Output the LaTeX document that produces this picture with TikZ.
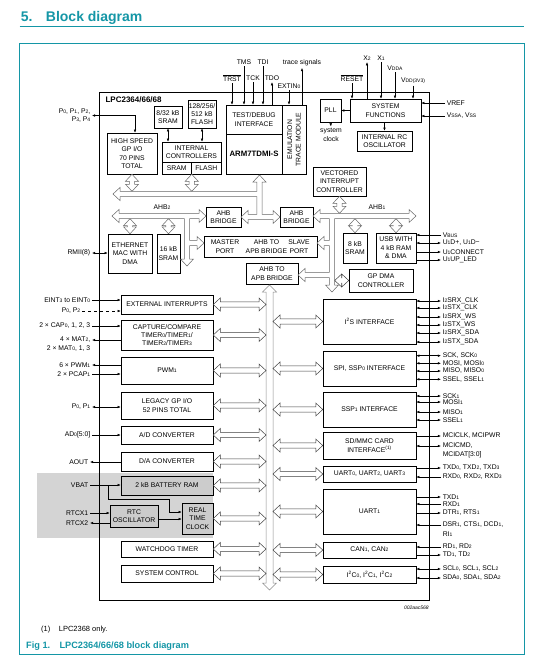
\documentclass[tikz,border=0pt]{standalone}
\usepackage{fontspec}
\setmainfont{Liberation Sans}
\usetikzlibrary{arrows.meta,calc}

\definecolor{nxpteal}{RGB}{20,150,166}
\newcommand\ix[1]{{\fontsize{5}{5}\selectfont #1}}
\newcommand\ovl[1]{$\overline{\mbox{#1}}$}

\tikzset{
  blk/.style 2 args={draw, fill=white, align=center, inner sep=0pt,
    minimum width=#1pt, minimum height=#2pt},
  bat/.style={fill=black!20},
  lbl/.style={inner sep=1.5pt, align=center},
  busline/.style={draw=black!60, fill=white, line width=0.5pt},
  hbus/.style={busline, draw=black!75, to path={let \p1=(\tikztostart), \p2=(\tikztotarget) in
    (\x1,\y1) -- (\x1+7pt,\y1+6.5pt) -- (\x1+7pt,\y1+2.7pt) -- (\x2-7pt,\y1+2.7pt)
    -- (\x2-7pt,\y1+6.5pt) -- (\x2,\y1) -- (\x2-7pt,\y1-6.5pt) -- (\x2-7pt,\y1-2.7pt)
    -- (\x1+7pt,\y1-2.7pt) -- (\x1+7pt,\y1-6.5pt) -- cycle}},
  vbus/.style={busline, to path={let \p1=(\tikztostart), \p2=(\tikztotarget) in
    (\x1,\y1) -- (\x1+6.5pt,\y1-7pt) -- (\x1+2.7pt,\y1-7pt) -- (\x1+2.7pt,\y2+7pt)
    -- (\x1+6.5pt,\y2+7pt) -- (\x1,\y2) -- (\x1-6.5pt,\y2+7pt) -- (\x1-2.7pt,\y2+7pt)
    -- (\x1-2.7pt,\y1-7pt) -- (\x1-6.5pt,\y1-7pt) -- cycle}}
}

\begin{document}
\begin{tikzpicture}[x=1pt, y=-1pt, line width=0.5pt,
    font=\fontsize{6.8}{8.4}\selectfont, >={Latex[length=3.2pt,width=2.6pt]}]
\useasboundingbox (0,0) rectangle (540,665);

% Titel und Rahmen:
\node[anchor=base west, inner sep=0, text=nxpteal, font=\fontsize{14}{16}\selectfont\bfseries] (titel) at (20.5,21) {5.\hspace{13.5pt}Block diagram};
\draw[nxpteal, line width=1.6pt] (19.6,26.5) -- (524,26.5); % Linie unter Titel
\draw[nxpteal, line width=0.9pt] (19.6,43.7) rectangle (524,654); % Rahmen

% Batterie-Bereich:
\fill[black!17] (37,473) rectangle (213,538);

% Chip:
\node[draw, inner sep=0, minimum width=330pt, minimum height=508pt, line width=0.6pt] (chip) at (264,346) {};
\node[anchor=west, font=\fontsize{8}{9}\selectfont\bfseries] (typ) at (102,100) {LPC2364/66/68};

% obere Bloecke:
\node[blk={50}{41}] (hsgpio) at (132,153.5) {HIGH SPEED\\GP I/O\\70 PINS\\TOTAL};
\node[blk={28}{22}] (sram8) at (168,117) {8/32 kB\\SRAM};
\node[blk={28}{28}] (flash) at (202,114) {128/256/\\512 kB\\FLASH};
\node[blk={59}{20}] (intctl) at (191.5,152) {INTERNAL\\CONTROLLERS};
\node[blk={29.5}{12}] (icsram) at (176.75,168) {SRAM};
\node[blk={29.5}{12}] (icflash) at (206.25,168) {FLASH};
\node[blk={56}{29}] (dbg) at (254,119.5) {TEST/DEBUG\\INTERFACE};
\node[blk={56}{40}, font=\fontsize{7.8}{9}\selectfont\bfseries] (cpu) at (254,154) {ARM7TDMI-S};
\node[blk={69}{24}, rotate=90] (etm) at (294,139.5) {EMULATION\\TRACE MODULE};
\node[blk={21}{23}] (pll) at (330.5,110.5) {PLL};
\node[blk={71}{23}] (sysfn) at (385.5,110.5) {SYSTEM\\FUNCTIONS};
\node[blk={55}{20}] (rcosc) at (384.5,141) {INTERNAL RC\\OSCILLATOR};
\node[blk={53}{29}] (vic) at (339.5,181.5) {VECTORED\\INTERRUPT\\CONTROLLER};

% AHB-Bereich:
\node[blk={35}{20}] (brl) at (223.5,217) {AHB\\BRIDGE};
\node[blk={33}{20}] (brr) at (296.5,217) {AHB\\BRIDGE};
\node[blk={44}{39}] (eth) at (130,253.5) {ETHERNET\\MAC WITH\\DMA};
\node[blk={23}{39}] (sram16) at (168.5,253.5) {16 kB\\SRAM};
\node[blk={113}{21}] (apbport) at (260.5,246.5) {};
\node[lbl] (mport) at (225,246.5) {MASTER\\PORT};
\node[lbl] (abtxt) at (266.5,246.5) {AHB TO\\APB BRIDGE};
\node[lbl] (sport) at (299,246.5) {SLAVE\\PORT};
\node[blk={52}{21}] (apb2) at (272,273.5) {AHB TO\\APB BRIDGE};
\node[blk={24}{30}] (sram8k) at (355,248) {8 kB\\SRAM};
\node[blk={40}{30}] (usb) at (396,248) {USB WITH\\4 kB RAM\\\& DMA};
\node[blk={64}{23}] (gpdma) at (381,280.5) {GP DMA\\CONTROLLER};
\node[lbl] (ahbzwei) at (162,207) {AHB\ix{2}};
\node[lbl] (ahbeins) at (377,207) {AHB\ix{1}};

% linke Peripherie:
\node[blk={92}{19}] (eint) at (167,304.5) {EXTERNAL INTERRUPTS};
\node[blk={92}{30}] (timer) at (167,335) {CAPTURE/COMPARE\\TIMER\ix{0}/TIMER\ix{1}/\\TIMER\ix{2}/TIMER\ix{3}};
\node[blk={92}{27}] (pwm) at (167,370.5) {PWM\ix{1}};
\node[blk={92}{27}] (gpio) at (167,405.5) {LEGACY GP I/O\\52 PINS TOTAL};
\node[blk={92}{18}] (adc) at (167,435) {A/D CONVERTER};
\node[blk={92}{19}] (dac) at (167,461.5) {D/A CONVERTER};
\node[blk={92}{19}, bat] (bram) at (167,485.5) {2 kB BATTERY RAM};
\node[blk={48}{22}, bat] (rtcosc) at (134,516) {RTC\\OSCILLATOR};
\node[blk={31}{31}, bat] (rtc) at (197.5,518.5) {REAL\\TIME\\CLOCK};
\node[blk={92}{16}] (wdt) at (167,549) {WATCHDOG TIMER};
\node[blk={92}{17}] (sysctl) at (167,573.5) {SYSTEM CONTROL};

% rechte Peripherie:
\node[blk={93}{45}] (i2s) at (369.5,321.5) {I\textsuperscript{2}S INTERFACE};
\node[blk={93}{35}] (spi) at (369.5,368.5) {SPI, SSP\ix{0} INTERFACE};
\node[blk={93}{35}] (ssp1) at (369.5,409.5) {SSP\ix{1} INTERFACE};
\node[blk={93}{27}] (sdmmc) at (369.5,445.5) {SD/MMC CARD\\INTERFACE\textsuperscript{(1)}};
\node[blk={93}{16}] (uart0) at (369.5,474) {UART\ix{0}, UART\ix{2}, UART\ix{3}};
\node[blk={93}{45}] (uart1) at (369.5,511.5) {UART\ix{1}};
\node[blk={93}{16}] (can) at (369.5,550) {CAN\ix{1}, CAN\ix{2}};
\node[blk={93}{17}] (i2c) at (369.5,574.5) {I\textsuperscript{2}C\ix{0}, I\textsuperscript{2}C\ix{1}, I\textsuperscript{2}C\ix{2}};

% Busse:
\coordinate (apbL) at (266,0);
\coordinate (apbR) at (273,0);
\coordinate (lbus) at (0,191.3);
\coordinate (ahbO) at (0,213.3);
\coordinate (ahbU) at (0,218.7);
\coordinate (dmaband) at (334.7,0);
\draw[busline] (259.5,175) -- (266,182) -- (262.2,182) -- (262.2,214.3) -- (273,214.3) -- (273,210.5) -- (280,217) -- (273,223.5) -- (273,219.7) -- (248,219.7) -- (248,223.5) -- (241,217) -- (248,210.5) -- (248,214.3) -- (256.8,214.3) -- (256.8,196.7) -- (120,196.7) -- (120,200.5) -- (113,194) -- (120,187.5) -- (120,191.3) -- (256.8,191.3) -- (256.8,182) -- (253,182) -- cycle; % lokaler Bus
\draw[busline] (112,216) -- (119,209.5) -- (119,213.3) -- (199,213.3) -- (199,209.5) -- (206,216) -- (199,222.5) -- (199,218.7) -- (189.7,218.7) -- (189.7,240.3) -- (197,240.3) -- (197,236.5) -- (204,243) -- (197,249.5) -- (197,245.7) -- (189.7,245.7) -- (189.7,259) -- (193.5,259) -- (187,266) -- (180.5,259) -- (184.3,259) -- (184.3,218.7) -- (119,218.7) -- (119,222.5) -- cycle; % AHB2
\draw[busline] (313,216) -- (320,209.5) -- (320,213.3) -- (409,213.3) -- (409,209.5) -- (416,216) -- (409,222.5) -- (409,218.7) -- (334.7,218.7) -- (334.7,285) -- (338.5,285) -- (332,292) -- (325.5,285) -- (329.3,285) -- (329.3,277.7) -- (305,277.7) -- (305,281.5) -- (298,275) -- (305,268.5) -- (305,272.3) -- (329.3,272.3) -- (329.3,245.7) -- (324,245.7) -- (324,249.5) -- (317,243) -- (324,236.5) -- (324,240.3) -- (329.3,240.3) -- (329.3,218.7) -- (320,218.7) -- (320,222.5) -- cycle; % AHB1
\draw[busline, draw=black!45] (269.5,285) -- (276.5,292) -- (273,292) -- (273,583) -- (276.5,583) -- (269.5,590) -- (262.5,583) -- (266,583) -- (266,292) -- (262.5,292) -- cycle; % APB
\draw[vbus] (hsgpio.south) to (hsgpio.south |- lbus);
\draw[vbus] (icsram.south east) to (icsram.south east |- lbus);
\draw[vbus] (eth.north |- ahbU) to (eth.north);
\draw[vbus] (sram16.north |- ahbU) to (sram16.north);
\draw[vbus] (vic.south) to (vic.south |- ahbO);
\draw[vbus] (sram8k.north |- ahbU) to (sram8k.north);
\draw[vbus] (usb.north |- ahbU) to (usb.north);
\draw[hbus] (gpdma.west -| dmaband) to (gpdma.west);
\draw[hbus] (eint.east) to (eint.east -| apbL);
\draw[hbus] (timer.east) to (timer.east -| apbL);
\draw[hbus] (pwm.east) to (pwm.east -| apbL);
\draw[hbus] (gpio.east) to (gpio.east -| apbL);
\draw[hbus] (adc.east) to (adc.east -| apbL);
\draw[hbus] (dac.east) to (dac.east -| apbL);
\draw[hbus] (bram.east) to (bram.east -| apbL);
\draw[hbus] (rtc.east) to (rtc.east -| apbL);
\draw[hbus] (wdt.east) to (wdt.east -| apbL);
\draw[hbus] (sysctl.east) to (sysctl.east -| apbL);
\draw[hbus] (i2s.west -| apbR) to (i2s.west);
\draw[hbus] (spi.west -| apbR) to (spi.west);
\draw[hbus] (ssp1.west -| apbR) to (ssp1.west);
\draw[hbus] (sdmmc.west -| apbR) to (sdmmc.west);
\draw[hbus] (uart0.west -| apbR) to (uart0.west);
\draw[hbus] (uart1.west -| apbR) to (uart1.west);
\draw[hbus] (can.west -| apbR) to (can.west);
\draw[hbus] (i2c.west -| apbR) to (i2c.west);

% interne Pfeile:
\draw[<->] (sram8.south) -- (sram8.south |- intctl.north);
\draw[<->] (flash.south) -- (flash.south |- intctl.north);
\draw[->] (sysfn.west |- pll.east) -- (pll.east);
\node[lbl, anchor=north] (sysclk) at (331,126.5) {system\\clock};
\draw[->] (pll.south) -- (sysclk.north);
\draw[->] (sysfn.south -| rcosc.north) -- (rcosc.north);
\draw[->] (108,485) |- (169,499) |- ([yshift=6.5pt]rtc.west); % VBAT zur Uhr
\draw[->] ([yshift=-3pt]rtcosc.east) -- ([yshift=-3pt]rtcosc.east -| rtc.west);

% Signale oben:
\node[lbl] (trst) at (232,78) {\ovl{TRST}};
\draw[->] (trst.south) -- (trst.south |- dbg.north);
\node[lbl] (tms) at (244,62) {TMS};
\draw[->] (tms.south) -- (tms.south |- dbg.north);
\node[lbl] (tck) at (253,78) {TCK};
\draw[->] (tck.south) -- (tck.south |- dbg.north);
\node[lbl] (tdi) at (263,62) {TDI};
\draw[->] (tdi.south) -- (tdi.south |- dbg.north);
\node[lbl] (tdo) at (272,78) {TDO};
\draw[<-] (tdo.south) -- (tdo.south |- dbg.north);
\node[lbl] (extin) at (289,86) {EXTIN\ix{0}};
\draw[->] (extin.south) -- (extin.south |- etm.east);
\node[lbl] (trace) at (302,63) {trace signals};
\draw[<-] (trace.south) -- (trace.south |- etm.east);
\node[lbl] (reset) at (352,78) {\ovl{RESET}};
\draw[->] (reset.south) -- (reset.south |- sysfn.north);
\node[lbl] (xzwei) at (367,58) {X\ix{2}};
\draw[<-] (xzwei.south) -- (xzwei.south |- sysfn.north);
\node[lbl] (xeins) at (381,58) {X\ix{1}};
\draw[->] (xeins.south) -- (xeins.south |- sysfn.north);
\node[lbl] (vdda) at (395,68) {V\ix{DDA}};
\draw[->] (vdda.south) -- (vdda.south |- sysfn.north);
\node[lbl] (vdd) at (413,81) {V\ix{DD(3V3)}};
\draw[->] (vdd.south) -- (vdd.south |- sysfn.north);

% Signale links:
\node[lbl, anchor=east, align=right] (pgp) at (92,115.5) {P\ix{0}, P\ix{1}, P\ix{2},\\P\ix{3}, P\ix{4}};
\draw[<->] (pgp.east) -| ([xshift=3pt]hsgpio.north);
\node[lbl, anchor=east] (rmii) at (92,253) {RMII(8)};
\draw[<->] (rmii.east) -- (rmii.east -| eth.west);
\node[lbl, anchor=east] (eintsig) at (92,300) {EINT\ix{3} to EINT\ix{0}};
\draw[->] (eintsig.east) -- (eintsig.east -| eint.west);
\node[lbl, anchor=east] (psig) at (82,311) {P\ix{0}, P\ix{2}};
\draw[->, dashed] (psig.east) -- (psig.east -| eint.west);
\node[lbl, anchor=east] (capsig) at (92,326) {2 × CAP\ix{0}, 1, 2, 3};
\draw[->] (capsig.east) -- (capsig.east -| timer.west);
\node[lbl, anchor=east] (matsig) at (92,340) {4 × MAT\ix{2},};
\draw[<-] (matsig.east) -- (matsig.east -| timer.west);
\node[lbl, anchor=east] (matsigb) at (92,349) {2 × MAT\ix{0}, 1, 3};
\node[lbl, anchor=east] (pwmsig) at (92,365) {6 × PWM\ix{1}};
\draw[<-] (pwmsig.east) -- (pwmsig.east -| pwm.west);
\node[lbl, anchor=east] (pcapsig) at (92,374) {2 × PCAP\ix{1}};
\draw[->] (pcapsig.east) -- (pcapsig.east -| pwm.west);
\node[lbl, anchor=east] (pzsig) at (92,407) {P\ix{0}, P\ix{1}};
\draw[<->] (pzsig.east) -- (pzsig.east -| gpio.west);
\node[lbl, anchor=east] (adsig) at (92,435) {AD\ix{0}[5:0]};
\draw[->] (adsig.east) -- (adsig.east -| adc.west);
\node[lbl, anchor=east] (aoutsig) at (90,462) {AOUT};
\draw[<-] (aoutsig.east) -- (aoutsig.east -| dac.west);
\node[lbl, anchor=east] (vbatsig) at (90,485) {VBAT};
\draw[->] (vbatsig.east) -- (vbatsig.east -| bram.west);
\node[lbl, anchor=east] (rtcxa) at (90,513) {RTCX1};
\draw[->] (rtcxa.east) -- (rtcxa.east -| rtcosc.west);
\node[lbl, anchor=east] (rtcxb) at (90,523) {RTCX2};
\draw[<-] (rtcxb.east) -- (rtcxb.east -| rtcosc.west);

% Signale rechts:
\node[lbl, anchor=west] (vref) at (445,103) {VREF};
\draw[->] (vref.west) -- (vref.west -| sysfn.east);
\node[lbl, anchor=west] (vss) at (445,116) {V\ix{SSA}, V\ix{SS}};
\draw[->] (vss.west) -- (vss.west -| sysfn.east);
\node[lbl, anchor=west] (vbus) at (441,235) {V\ix{BUS}};
\draw[->] (vbus.west) -- (vbus.west -| usb.east);
\node[lbl, anchor=west] (udsig) at (441,243) {U\ix{1}D+, U\ix{1}D−};
\draw[<->] (udsig.west) -- (udsig.west -| usb.east);
\node[lbl, anchor=west] (uconn) at (441,252) {U\ix{1}CONNECT};
\draw[<-] (uconn.west) -- (uconn.west -| usb.east);
\node[lbl, anchor=west] (uled) at (441,260) {U\ix{1}UP\_LED};
\draw[<-] (uled.west) -- (uled.west -| usb.east);
\node[lbl, anchor=west] (rxclk) at (441,301) {I\ix{2}SRX\_CLK};
\draw[<->] (rxclk.west) -- (rxclk.west -| i2s.east);
\node[lbl, anchor=west] (txclk) at (441,308) {I\ix{2}STX\_CLK};
\draw[<->] (txclk.west) -- (txclk.west -| i2s.east);
\node[lbl, anchor=west] (rxws) at (441,317) {I\ix{2}SRX\_WS};
\draw[<->] (rxws.west) -- (rxws.west -| i2s.east);
\node[lbl, anchor=west] (txws) at (441,325) {I\ix{2}STX\_WS};
\draw[<->] (txws.west) -- (txws.west -| i2s.east);
\node[lbl, anchor=west] (rxsda) at (441,333) {I\ix{2}SRX\_SDA};
\draw[<->] (rxsda.west) -- (rxsda.west -| i2s.east);
\node[lbl, anchor=west] (txsda) at (441,342) {I\ix{2}STX\_SDA};
\draw[<->] (txsda.west) -- (txsda.west -| i2s.east);
\node[lbl, anchor=west] (sck) at (441,355.7) {SCK, SCK\ix{0}};
\draw[<->] (sck.west) -- (sck.west -| spi.east);
\node[lbl, anchor=west] (mosi) at (441,363.3) {MOSI, MOSI\ix{0}};
\draw[<->] (mosi.west) -- (mosi.west -| spi.east);
\node[lbl, anchor=west] (miso) at (441,371) {MISO, MISO\ix{0}};
\draw[<->] (miso.west) -- (miso.west -| spi.east);
\node[lbl, anchor=west] (ssel) at (441,379.3) {SSEL, SSEL\ix{1}};
\draw[<->] (ssel.west) -- (ssel.west -| spi.east);
\node[lbl, anchor=west] (sckb) at (441,396) {SCK\ix{1}};
\draw[<->] (sckb.west) -- (sckb.west -| ssp1.east);
\node[lbl, anchor=west] (mosib) at (441,402) {MOSI\ix{1}};
\draw[<->] (mosib.west) -- (mosib.west -| ssp1.east);
\node[lbl, anchor=west] (misob) at (441,412) {MISO\ix{1}};
\draw[<->] (misob.west) -- (misob.west -| ssp1.east);
\node[lbl, anchor=west] (sselb) at (441,420) {SSEL\ix{1}};
\draw[<->] (sselb.west) -- (sselb.west -| ssp1.east);
\node[lbl, anchor=west] (mciclk) at (441,436) {MCICLK, MCIPWR};
\draw[<-] (mciclk.west) -- (mciclk.west -| sdmmc.east);
\node[lbl, anchor=west] (mcicmd) at (441,446) {MCICMD,};
\draw[<->] (mcicmd.west) -- (mcicmd.west -| sdmmc.east);
\node[lbl, anchor=west] (mcidat) at (441,455) {MCIDAT[3:0]};
\node[lbl, anchor=west] (txd) at (441,468) {TXD\ix{0}, TXD\ix{2}, TXD\ix{3}};
\draw[<-] (txd.west) -- (txd.west -| uart0.east);
\node[lbl, anchor=west] (rxd) at (441,477) {RXD\ix{0}, RXD\ix{2}, RXD\ix{3}};
\draw[->] (rxd.west) -- (rxd.west -| uart0.east);
\node[lbl, anchor=west] (txdb) at (441,497) {TXD\ix{1}};
\draw[<-] (txdb.west) -- (txdb.west -| uart1.east);
\node[lbl, anchor=west] (rxdb) at (441,504) {RXD\ix{1}};
\draw[->] (rxdb.west) -- (rxdb.west -| uart1.east);
\node[lbl, anchor=west] (dtr) at (441,513) {DTR\ix{1}, RTS\ix{1}};
\draw[<-] (dtr.west) -- (dtr.west -| uart1.east);
\node[lbl, anchor=west] (dsr) at (441,525) {DSR\ix{1}, CTS\ix{1}, DCD\ix{1},};
\draw[->] (dsr.west) -- (dsr.west -| uart1.east);
\node[lbl, anchor=west] (ri) at (441,534) {RI\ix{1}};
\node[lbl, anchor=west] (rd) at (441,547) {RD\ix{1}, RD\ix{2}};
\draw[->] (rd.west) -- (rd.west -| can.east);
\node[lbl, anchor=west] (td) at (441,555) {TD\ix{1}, TD\ix{2}};
\draw[<-] (td.west) -- (td.west -| can.east);
\node[lbl, anchor=west] (scl) at (441,569) {SCL\ix{0}, SCL\ix{1}, SCL\ix{2}};
\draw[<->] (scl.west) -- (scl.west -| i2c.east);
\node[lbl, anchor=west] (sda) at (441,578) {SDA\ix{0}, SDA\ix{1}, SDA\ix{2}};
\draw[<->] (sda.west) -- (sda.west -| i2c.east);

% Fussnote und Bildunterschrift:
\node[anchor=base east, inner sep=0, font=\fontsize{5}{6}\selectfont\itshape] (figid) at (429,609.5) {002aac568};
\node[anchor=base west, inner sep=0, font=\fontsize{7.5}{9}\selectfont] (fnnr) at (41,631.5) {(1)};
\node[anchor=base west, inner sep=0, font=\fontsize{7.5}{9}\selectfont] (fntxt) at (58.6,631.5) {LPC2368 only.};
\node[anchor=base west, inner sep=0, text=nxpteal, font=\fontsize{9.2}{11}\selectfont\bfseries] (fig) at (26,648) {Fig 1.\hspace{9.3pt}LPC2364/66/68 block diagram};
\end{tikzpicture}
\end{document}
